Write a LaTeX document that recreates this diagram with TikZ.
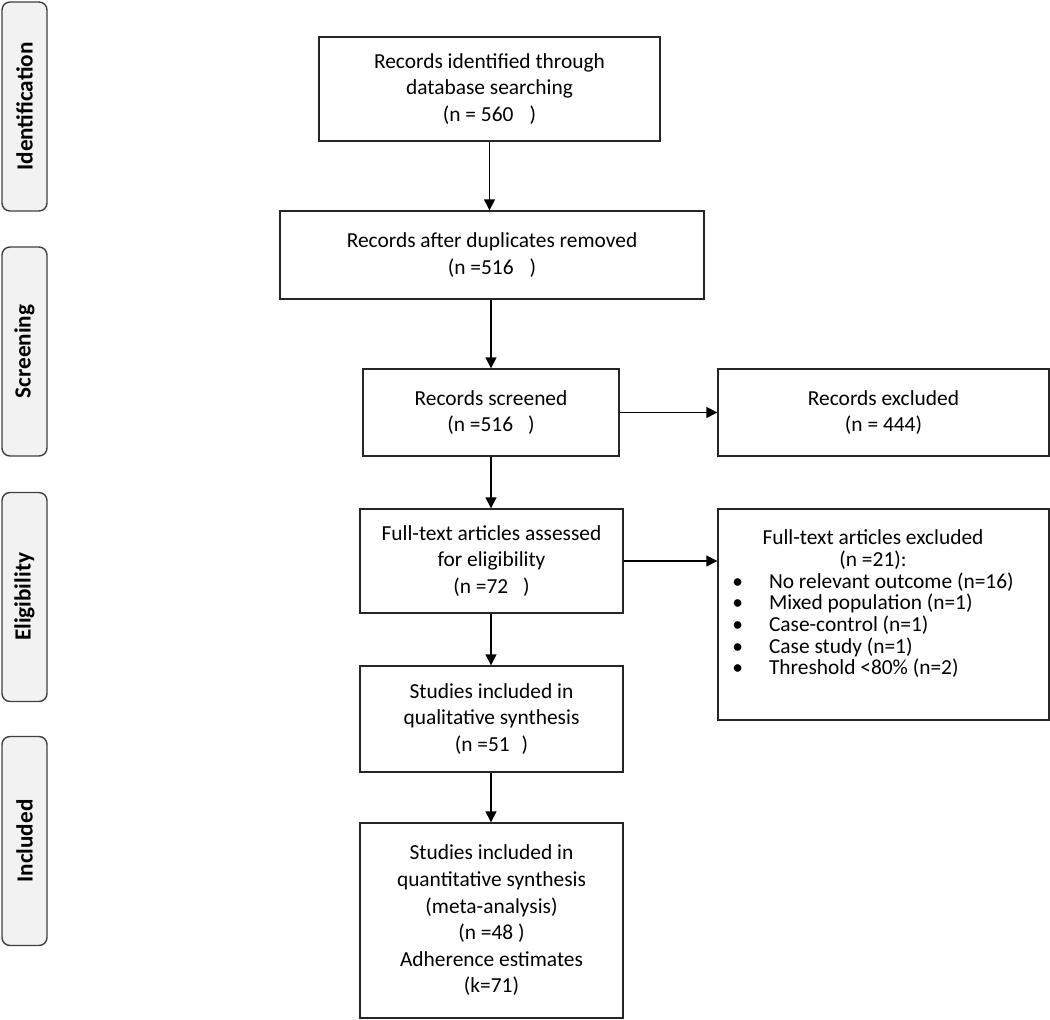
\documentclass[tikz,border=0pt]{standalone}
\usepackage{fontspec}
\setmainfont{Carlito}
\usepackage{tikz}
\usetikzlibrary{positioning, arrows.meta, calc}
\definecolor{phasefill}{HTML}{F2F2F2}
\tikzset{
  flowbox/.style={draw=black!85, line width=0.7pt, align=center, inner sep=2pt, font=\fontsize{10.7}{13.3}\selectfont},
  phase/.style={draw=black!75, line width=0.7pt, fill=phasefill, rounded corners=4pt, rotate=90, minimum width=104.5pt, minimum height=22.5pt, inner sep=0pt, font=\fontsize{11.6}{13}\selectfont\bfseries},
  flowarrow/.style={-{Triangle[length=5.5pt,width=5.5pt]}, line width=0.75pt}
}

\begin{document}
\begin{tikzpicture}[x=0.5pt, y=-0.5pt]
\useasboundingbox (0,0) rectangle (1050,1020);
% phases on the left
\node[phase] (ident) at (24.5,106.5) {Identification};
\node[phase] (screen) at (24.5,351.5) {Screening};
\node[phase] (elig) at (24.5,597) {Eligibility};
\node[phase] (incl) at (24.5,841) {Included};
% main column
\node[flowbox, minimum width=170.5pt, minimum height=52pt] (found) at (489.5,89) {Records identified through\\database searching\\(n = 560\hspace{0.75em})};
\node[flowbox, minimum width=212pt, minimum height=44pt] (dedup) at (492,255) {Records after duplicates removed\\(n =516\hspace{0.75em})};
\node[flowbox, minimum width=128pt, minimum height=43.5pt] (screened) at (491,412.5) {Records screened\\(n =516\hspace{0.7em})};
\node[flowbox, minimum width=131.5pt, minimum height=52pt] (fulltext) at (491.5,561) {Full-text articles assessed\\for eligibility\\(n =72\hspace{0.7em})};
\node[flowbox, minimum width=131.5pt, minimum height=53pt] (qual) at (491.5,719) {Studies included in\\qualitative synthesis\\(n =51\hspace{0.55em})};
\node[flowbox, minimum width=131.5pt, minimum height=97.5pt] (quant) at (491.5,920.5) {Studies included in\\quantitative synthesis\\(meta-analysis)\\(n =48 )\\Adherence estimates\\(k=71)};
% exclusions
\node[flowbox, minimum width=165.5pt, minimum height=43.5pt] (recexcl) at (883.5,412.5) {Records excluded\\(n = 444)};
\node[flowbox, minimum width=165.5pt, minimum height=105.5pt] (ftexcl) at (883.5,614.5) {\fontsize{10.7}{10}\selectfont
  \begin{tabular}{@{}l@{\hspace{13pt}}l@{}}
  \multicolumn{2}{c}{Full-text articles excluded}\\
  \multicolumn{2}{c}{(n =21):}\\
  \textbullet & No relevant outcome (n=16)\\
  \textbullet & Mixed population (n=1)\\
  \textbullet & Case-control (n=1)\\
  \textbullet & Case study (n=1)\\
  \textbullet & Threshold <80\% (n=2)\\[9pt]
  \end{tabular}\hspace{10.5pt}};
% arrows
\draw[flowarrow] (found.south) -- (found.south |- dedup.north);
\draw[flowarrow] (screened.north |- dedup.south) -- (screened.north);
\draw[flowarrow] (screened.south) -- (screened.south |- fulltext.north);
\draw[flowarrow] (screened.south |- fulltext.south) -- (screened.south |- qual.north);
\draw[flowarrow] (screened.south |- qual.south) -- (screened.south |- quant.north);
\draw[flowarrow] (screened.east) -- (screened.east -| recexcl.west);
\draw[flowarrow] (fulltext.east) -- (fulltext.east -| ftexcl.west);
\end{tikzpicture}
\end{document}
